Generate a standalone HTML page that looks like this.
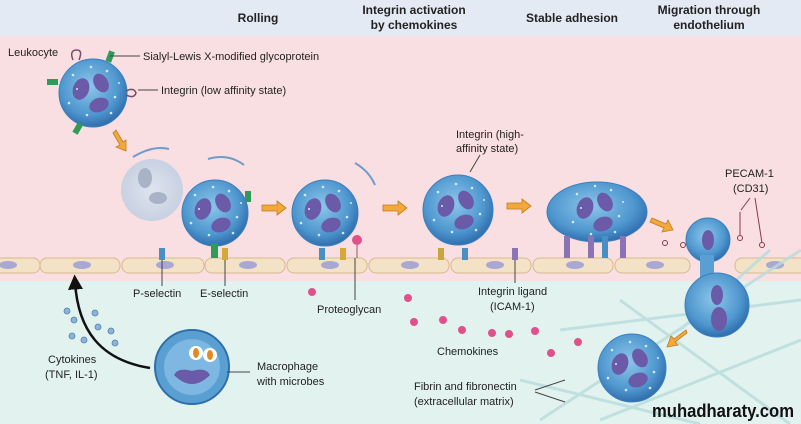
<!DOCTYPE html>
<html><head><meta charset="utf-8"><style>
html,body{margin:0;padding:0;background:#fff}
svg{display:block}
text{font-family:"Liberation Sans",sans-serif;fill:#222;font-size:11px}
.h{font-weight:bold;font-size:12px;text-anchor:middle}
</style></head><body>
<svg width="801" height="424" viewBox="0 0 801 424" xmlns="http://www.w3.org/2000/svg">
<defs>
<radialGradient id="cg" cx="45%" cy="40%" r="60%"><stop offset="0" stop-color="#8cc6ea"/><stop offset="0.7" stop-color="#4f97cf"/><stop offset="1" stop-color="#2f6fae"/></radialGradient>
<radialGradient id="gg" cx="50%" cy="50%" r="60%"><stop offset="0" stop-color="#dfe4ee"/><stop offset="1" stop-color="#c3cde0"/></radialGradient>
<g id="nuc"><ellipse cx="-12" cy="-4" rx="8" ry="11" fill="#6a5aa8" transform="rotate(20 -12 -4)"/><ellipse cx="8" cy="-10" rx="7" ry="10" fill="#6a5aa8" transform="rotate(-30 8 -10)"/><ellipse cx="6" cy="12" rx="10" ry="7" fill="#6a5aa8" transform="rotate(-20 6 12)"/></g>
<g id="dots" fill="#cfeaf8"><circle cx="-20" cy="-18" r="1.3"/><circle cx="14" cy="-22" r="1.3"/><circle cx="22" cy="4" r="1.3"/><circle cx="-24" cy="10" r="1.3"/><circle cx="-6" cy="22" r="1.3"/><circle cx="18" cy="20" r="1.3"/><circle cx="-2" cy="-26" r="1.3"/><circle cx="-16" cy="-4" r="1"/><circle cx="26" cy="-10" r="1"/></g>
<marker id="ah" markerWidth="6" markerHeight="6" refX="3" refY="3" orient="auto"><path d="M0,0L6,3L0,6z" fill="#111"/></marker>
</defs>
<rect width="801" height="36" fill="#e3eaf3"/>
<rect y="36" width="801" height="245" fill="#f9dfe1"/>
<rect y="281" width="801" height="143" fill="#e2f2ef"/>
<g fill="#f4e2c6" stroke="#d8b98f" stroke-width="1">
<rect x="-10" y="258" width="50" height="15" rx="7"/><rect x="40" y="258" width="80" height="15" rx="7"/><rect x="122" y="258" width="82" height="15" rx="7"/><rect x="205" y="258" width="80" height="15" rx="7"/><rect x="287" y="258" width="80" height="15" rx="7"/><rect x="369" y="258" width="80" height="15" rx="7"/><rect x="451" y="258" width="80" height="15" rx="7"/><rect x="533" y="258" width="80" height="15" rx="7"/><rect x="615" y="258" width="75" height="15" rx="7"/><rect x="735" y="258" width="75" height="15" rx="7"/>
</g>
<g fill="#a9a7d4"><ellipse cx="8" cy="265" rx="9" ry="4"/><ellipse cx="82" cy="265" rx="9" ry="4"/><ellipse cx="165" cy="265" rx="9" ry="4"/><ellipse cx="248" cy="265" rx="9" ry="4"/><ellipse cx="330" cy="265" rx="9" ry="4"/><ellipse cx="410" cy="265" rx="9" ry="4"/><ellipse cx="495" cy="265" rx="9" ry="4"/><ellipse cx="575" cy="265" rx="9" ry="4"/><ellipse cx="655" cy="265" rx="9" ry="4"/><ellipse cx="775" cy="265" rx="9" ry="4"/></g>
<g stroke="#b8dcdc" stroke-width="3" fill="none" opacity="0.8"><path d="M540,420 L801,250"/><path d="M560,330 L801,300"/><path d="M600,420 L801,340"/><path d="M620,300 L790,424"/><path d="M520,380 L700,424"/><path d="M680,330 L770,250"/></g>
<text class="h" x="258" y="22">Rolling</text>
<text class="h" x="414" y="14">Integrin activation</text><text class="h" x="414" y="29">by chemokines</text>
<text class="h" x="572" y="22">Stable adhesion</text>
<text class="h" x="709" y="14">Migration through</text><text class="h" x="709" y="29">endothelium</text>
<g transform="translate(93,93)"><circle r="34" fill="url(#cg)" stroke="#3e7fbd"/><use href="#nuc"/><use href="#dots"/>
<rect x="14" y="-42" width="6" height="11" fill="#2f9a5a" transform="rotate(20 17 -36)"/><rect x="-46" y="-14" width="11" height="6" fill="#2f9a5a"/><rect x="-18" y="30" width="6" height="11" fill="#2f9a5a" transform="rotate(30 -15 35)"/><path d="M-20,-33 q-4,-10 4,-10 q6,0 2,10" stroke="#7a4b6a" fill="none" stroke-width="1.5"/><path d="M33,-2 q8,-4 10,2 q-2,6 -10,2" stroke="#7a4b6a" fill="none" stroke-width="1.5"/></g>
<line x1="110" y1="56" x2="140" y2="56" stroke="#444"/><text x="143" y="60">Sialyl-Lewis X-modified glycoprotein</text>
<line x1="138" y1="90" x2="158" y2="90" stroke="#444"/><text x="161" y="94">Integrin (low affinity state)</text>
<text x="8" y="56">Leukocyte</text>
<circle cx="152" cy="190" r="31" fill="url(#gg)"/>
<g fill="#a9b3c8"><ellipse cx="145" cy="178" rx="7" ry="10"/><ellipse cx="158" cy="198" rx="9" ry="6"/></g>
<g stroke="#6f9cc8" stroke-width="2" fill="none"><path d="M133,157 q20,-12 36,-8"/><path d="M208,159 q20,-6 36,6"/><path d="M355,163 q14,8 20,22"/></g>
<g transform="translate(215,213)"><circle r="33" fill="url(#cg)" stroke="#3e7fbd"/><use href="#nuc"/><use href="#dots"/><rect x="-4" y="30" width="7" height="15" fill="#2f9a5a"/><rect x="30" y="-22" width="6" height="11" fill="#2f9a5a"/></g>
<g transform="translate(325,213)"><circle r="33" fill="url(#cg)" stroke="#3e7fbd"/><use href="#nuc"/><use href="#dots"/></g>
<g transform="translate(458,210)"><circle r="35" fill="url(#cg)" stroke="#3e7fbd"/><use href="#nuc"/><use href="#dots"/></g>
<g transform="translate(597,212)"><ellipse rx="50" ry="30" fill="url(#cg)" stroke="#3e7fbd"/><use href="#nuc"/><use href="#dots"/></g>
<g transform="translate(708,240)"><circle r="22" fill="url(#cg)" stroke="#3e7fbd"/><ellipse rx="6" ry="10" fill="#6a5aa8"/></g>
<rect x="700" y="255" width="14" height="30" fill="#5a9fd2"/>
<g transform="translate(717,305)"><circle r="32" fill="url(#cg)" stroke="#3e7fbd"/><ellipse cx="0" cy="-10" rx="6" ry="10" fill="#6a5aa8"/><ellipse cx="2" cy="14" rx="8" ry="12" fill="#6a5aa8"/></g>
<g transform="translate(632,368)"><circle r="34" fill="url(#cg)" stroke="#3e7fbd"/><use href="#nuc"/><use href="#dots"/></g>
<g><rect x="159" y="248" width="6" height="12" fill="#4a8fc4"/><rect x="222" y="248" width="6" height="12" fill="#d4a93a"/><rect x="319" y="248" width="6" height="12" fill="#4a8fc4"/><rect x="340" y="248" width="6" height="12" fill="#d4a93a"/><rect x="438" y="248" width="6" height="12" fill="#c7a63c"/><rect x="462" y="248" width="6" height="12" fill="#4a8fc4"/><rect x="512" y="248" width="6" height="12" fill="#8a74b5"/>
<rect x="564" y="236" width="6" height="22" fill="#8a74b5"/><rect x="588" y="236" width="6" height="22" fill="#8a74b5"/><rect x="602" y="236" width="6" height="22" fill="#4a8fc4"/><rect x="620" y="236" width="6" height="22" fill="#8a74b5"/></g>
<circle cx="357" cy="240" r="5" fill="#e0508a"/><line x1="357" y1="245" x2="357" y2="258" stroke="#a05070"/>
<g fill="#f3a93a" stroke="#c27a20" stroke-width="0.8"><path d="M262,205h15v-4l9,7-9,7v-4h-15z"/><path d="M383,205h15v-4l9,7-9,7v-4h-15z"/><path d="M507,203h15v-4l9,7-9,7v-4h-15z"/><path d="M652,218l14,6 2,-4 5,10 -11,2 2,-4 -14,-6z"/><path d="M113,133l7,12 -4,2 10,4 0,-11 -3,2 -7,-12z"/><path d="M686,330l-12,9 -3,-3 -4,11 11,-2 -3,-3 12,-9z"/></g>
<g stroke="#8a3a4a" stroke-width="1" fill="none"><circle cx="665" cy="243" r="2.5"/><circle cx="683" cy="245" r="2.5"/><circle cx="740" cy="238" r="2.5"/><circle cx="762" cy="245" r="2.5"/><line x1="740" y1="212" x2="740" y2="236"/><line x1="755" y1="198" x2="762" y2="243"/><line x1="750" y1="198" x2="741" y2="210"/></g>
<g fill="#e0508a"><circle cx="408" cy="298" r="4"/><circle cx="414" cy="322" r="4"/><circle cx="443" cy="320" r="4"/><circle cx="462" cy="330" r="4"/><circle cx="492" cy="333" r="4"/><circle cx="509" cy="334" r="4"/><circle cx="535" cy="331" r="4"/><circle cx="551" cy="353" r="4"/><circle cx="578" cy="342" r="4"/><circle cx="312" cy="292" r="4"/></g>
<g transform="translate(192,367)"><circle r="37" fill="#5a9fd2" stroke="#2f6fae" stroke-width="2"/><circle r="28" fill="#7db7e2"/><path d="M-18,8 q18,18 36,0 q-4,-8 -18,-4 q-14,-4 -18,4z" fill="#6a5aa8"/><circle cx="4" cy="-14" r="7" fill="#fff"/><circle cx="18" cy="-12" r="7" fill="#fff"/><ellipse cx="4" cy="-14" rx="3" ry="5" fill="#e08a20"/><ellipse cx="18" cy="-12" rx="3" ry="5" fill="#e08a20"/></g>
<path d="M150,368 C100,360 78,330 75,282" stroke="#111" stroke-width="2.5" fill="none" marker-end="url(#ah)"/>
<g fill="#8fb3d6" stroke="#4d80b5" stroke-width="0.8"><circle cx="67" cy="311" r="3"/><circle cx="74" cy="320" r="3"/><circle cx="95" cy="313" r="3"/><circle cx="98" cy="327" r="3"/><circle cx="111" cy="331" r="3"/><circle cx="72" cy="336" r="3"/><circle cx="84" cy="340" r="3"/><circle cx="115" cy="343" r="3"/></g>
<g stroke="#444"><line x1="162" y1="260" x2="162" y2="286"/><line x1="225" y1="260" x2="225" y2="286"/><line x1="355" y1="258" x2="355" y2="300"/><line x1="515" y1="260" x2="515" y2="283"/><line x1="250" y1="372" x2="227" y2="372"/><line x1="535" y1="390" x2="565" y2="380"/><line x1="535" y1="392" x2="565" y2="402"/><line x1="480" y1="155" x2="470" y2="172"/></g>
<text x="133" y="297">P-selectin</text><text x="200" y="297">E-selectin</text>
<text x="317" y="313">Proteoglycan</text>
<text x="478" y="295">Integrin ligand</text><text x="490" y="310">(ICAM-1)</text>
<text x="437" y="355">Chemokines</text>
<text x="48" y="363">Cytokines</text><text x="45" y="378">(TNF, IL-1)</text>
<text x="257" y="370">Macrophage</text><text x="257" y="385">with microbes</text>
<text x="414" y="390">Fibrin and fibronectin</text><text x="414" y="405">(extracellular matrix)</text>
<text x="456" y="138">Integrin (high-</text><text x="456" y="152">affinity state)</text>
<text x="725" y="177">PECAM-1</text><text x="733" y="192">(CD31)</text>
<text x="652" y="417" textLength="142" lengthAdjust="spacingAndGlyphs" style="font-size:18px;font-weight:bold;fill:#111">muhadharaty.com</text>
</svg>
</body></html>
